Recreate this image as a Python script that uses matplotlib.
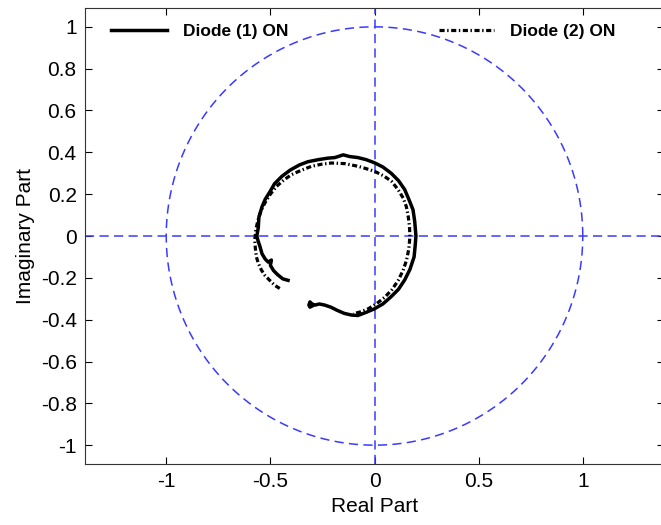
import numpy as np
import matplotlib
matplotlib.use("Agg")
import matplotlib.pyplot as plt

plt.rcParams['font.family'] = ['Liberation Sans', 'DejaVu Sans']

# Diode (1) ON trajectory (solid)
d1_re = [-0.415, -0.44, -0.465, -0.485, -0.50, -0.495, -0.51, -0.525, -0.54, -0.55,
         -0.56, -0.565, -0.558, -0.555, -0.54, -0.525, -0.50, -0.48, -0.445, -0.405,
         -0.36, -0.32, -0.27, -0.225, -0.19, -0.15, -0.12, -0.08, -0.04, 0.0,
         0.04, 0.08, 0.115, 0.145, 0.165, 0.185, 0.193, 0.199, 0.195, 0.19,
         0.17, 0.145, 0.115, 0.08, 0.04, 0.0, -0.04, -0.08, -0.11, -0.145,
         -0.18, -0.21, -0.24, -0.265, -0.285, -0.30, -0.31, -0.315, -0.31, -0.30]
d1_im = [-0.212, -0.205, -0.185, -0.165, -0.14, -0.115, -0.125, -0.11, -0.085, -0.05,
         -0.02, 0.0, 0.04, 0.09, 0.14, 0.175, 0.215, 0.25, 0.285, 0.315,
         0.34, 0.355, 0.365, 0.372, 0.375, 0.388, 0.38, 0.375, 0.365, 0.35,
         0.33, 0.30, 0.265, 0.222, 0.175, 0.125, 0.07, 0.0, -0.05, -0.10,
         -0.16, -0.21, -0.255, -0.29, -0.325, -0.348, -0.365, -0.38, -0.378, -0.37,
         -0.355, -0.34, -0.33, -0.325, -0.33, -0.325, -0.315, -0.33, -0.34, -0.335]

# Diode (2) ON trajectory (dash-dot)
d2_re = [-0.455, -0.48, -0.503, -0.525, -0.543, -0.558, -0.567, -0.572, -0.575, -0.57,
         -0.559, -0.545, -0.527, -0.50, -0.471, -0.435, -0.399, -0.35, -0.303, -0.255,
         -0.207, -0.143, -0.078, -0.04, 0.001, 0.045, 0.082, 0.113, 0.138, 0.153,
         0.162, 0.168, 0.170, 0.165, 0.154, 0.137, 0.114, 0.085, 0.050, 0.012,
         -0.030, -0.065, -0.102]
d2_im = [-0.251, -0.235, -0.212, -0.19, -0.163, -0.13, -0.10, -0.06, -0.02, 0.03,
         0.077, 0.12, 0.157, 0.20, 0.237, 0.268, 0.293, 0.315, 0.333, 0.343,
         0.349, 0.346, 0.333, 0.322, 0.309, 0.287, 0.261, 0.222, 0.181, 0.14,
         0.093, 0.045, -0.003, -0.06, -0.115, -0.165, -0.212, -0.255, -0.292, -0.322,
         -0.348, -0.362, -0.372]

xticks = [-1, -0.5, 0, 0.5, 1]
yticks = [-1, -0.8, -0.6, -0.4, -0.2, 0, 0.2, 0.4, 0.6, 0.8, 1]

fig = plt.figure(figsize=(6.61, 5.25), dpi=100)
ax = fig.add_axes([85/661, 61/525, 579/661, 456/525])

blue = '#3a3aff'
th = np.linspace(0, 2*np.pi, 400)
ax.plot(np.cos(th), np.sin(th), color=blue, lw=1.1, dashes=(6, 3.5))
ax.axhline(0, color=blue, lw=1.1, dashes=(6, 3.5))
ax.axvline(0, color=blue, lw=1.1, dashes=(6, 3.5))

l1, = ax.plot(d1_re, d1_im, color='black', lw=2.5, label='Diode (1) ON')
l2, = ax.plot(d2_re, d2_im, color='black', lw=2.3, dashes=[1.6, 0.8, 0.45, 0.8],
              label='Diode (2) ON')

ax.set_xlim(-1.39, 1.39)
ax.set_ylim(-1.09, 1.09)
ax.set_xticks(xticks)
ax.set_xticklabels([('%g' % v) for v in xticks])
ax.set_yticks(yticks)
ax.set_yticklabels([('%g' % v) for v in yticks])
ax.tick_params(direction='in', top=True, right=True, length=5, width=0.8,
               labelsize=15, pad=6)
for s in ax.spines.values():
    s.set_linewidth(0.8)
    s.set_color('#333333')

ax.set_xlabel('Real Part', fontsize=15, labelpad=4)
ax.set_ylabel('Imaginary Part', fontsize=15, labelpad=4)

fig.legend(handles=[l1, l2], loc='center left',
           bbox_to_anchor=(111/661, (525-31.4)/525), ncol=2, frameon=False,
           prop={'weight': 'bold', 'size': 12.5}, handlelength=3.2,
           handletextpad=0.92, columnspacing=8.7, borderpad=0, borderaxespad=0)

fig.savefig('out.png', dpi=100)
